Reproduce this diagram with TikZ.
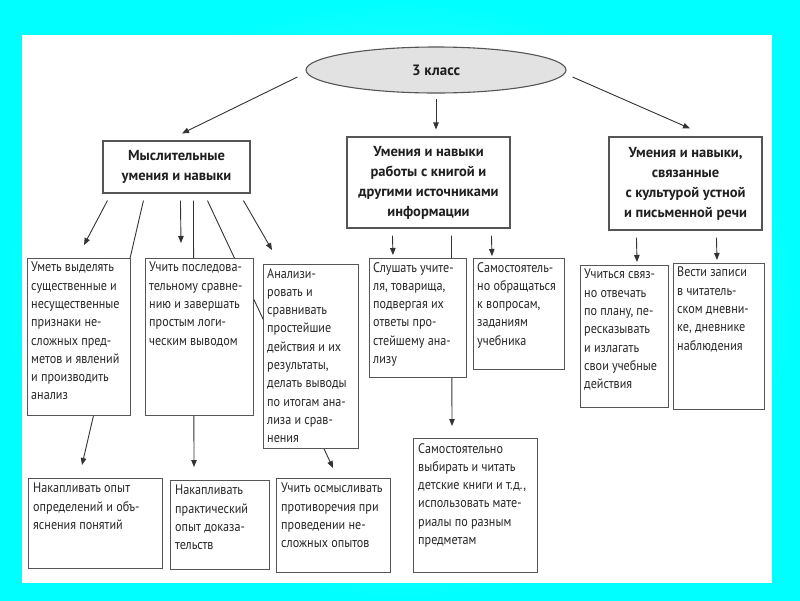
\documentclass[tikz,border=0pt]{standalone}
\usepackage{fontspec}
\setmainfont{PT Sans}
\newfontfamily\condfont{PT Sans}[FakeStretch=0.88]
\usetikzlibrary{arrows.meta,shapes.geometric,calc}
\pgfdeclarelayer{back}
\pgfdeclarelayer{lines}
\pgfsetlayers{back,lines,main}
\definecolor{bord}{HTML}{555555}
\definecolor{lin}{HTML}{333333}
\definecolor{ellfill}{HTML}{E2E2E2}
\tikzset{
  box/.style={draw=bord, line width=1.1pt, fill=white, inner sep=0pt},
  hdr/.style={box, align=center, font=\fontsize{14.5}{20}\selectfont\bfseries, text=black!88},
  txt/.style={inner sep=0pt, align=left, font=\condfont\fontsize{13.8}{18.3}\selectfont, text=black!85},
  arr/.style={draw=lin, line width=0.9pt, -{Triangle[length=7pt,width=5.5pt]}},
}
\begin{document}
\begin{tikzpicture}[x=1pt,y=-1pt]
\useasboundingbox (0,0) rectangle (800,600);
\begin{pgfonlayer}{back}
\shade[inner color=cyan!50!white, outer color=cyan] (0,0) rectangle (800,600);
\fill[white] (22,35) rectangle (772,583);
\end{pgfonlayer}

% top ellipse
\node[ellipse, draw=bord, line width=1.1pt, fill=ellfill, minimum width=260, minimum height=46,
      font=\fontsize{15}{18}\selectfont\bfseries, text=black!88] (cls) at (436,70) {3 класс};

% header boxes
\node[hdr, minimum width=147, minimum height=52] (A) at (176.5,167) {Мыслительные\\умения и навыки};
\node[hdr, minimum width=163, minimum height=91] (B) at (428.5,182.5) {Умения и навыки\\работы с книгой и\\другими источниками\\информации};
\node[hdr, minimum width=153, minimum height=93] (C) at (685.5,183.5) {Умения и навыки,\\связанные\\с культурой устной\\и письменной речи};

% content boxes
\node[box, anchor=north west, minimum width=103, minimum height=157] (b1) at (27,258) {};
\node[txt, anchor=north west] (b1t) at ($(b1.north west)+(4,4)$) {Уметь выделять\\существенные и\\несущественные\\признаки не-\\сложных пред-\\метов и явлений\\и производить\\анализ};

\node[box, anchor=north west, minimum width=108, minimum height=157] (b2) at (145,258) {};
\node[txt, anchor=north west] (b2t) at ($(b2.north west)+(4,4)$) {Учить последова-\\тельному сравне-\\нию и завершать\\простым логи-\\ческим выводом};

\node[box, anchor=north west, minimum width=95, minimum height=184] (b3) at (263,264) {};
\node[txt, anchor=north west] (b3t) at ($(b3.north west)+(4,4)$) {Анализи-\\ровать и\\сравнивать\\простейшие\\действия и их\\результаты,\\делать выводы\\по итогам ана-\\лиза и срав-\\нения};

\node[box, anchor=north west, minimum width=97, minimum height=119] (b4) at (369,258) {};
\node[txt, anchor=north west] (b4t) at ($(b4.north west)+(4,4)$) {Слушать учите-\\ля, товарища,\\подвергая их\\ответы про-\\стейшему ана-\\лизу};

\node[box, anchor=north west, minimum width=91, minimum height=111] (b5) at (473,258) {};
\node[txt, anchor=north west] (b5t) at ($(b5.north west)+(4,4)$) {Самостоятель-\\но обращаться\\к вопросам,\\заданиям\\учебника};

\node[box, anchor=north west, minimum width=88, minimum height=142] (b6) at (580,265) {};
\node[txt, anchor=north west] (b6t) at ($(b6.north west)+(4,4)$) {Учиться связ-\\но отвечать\\по плану, пе-\\ресказывать\\и излагать\\свои учебные\\действия};

\node[box, anchor=north west, minimum width=91, minimum height=146] (b7) at (673,263) {};
\node[txt, anchor=north west] (b7t) at ($(b7.north west)+(4,4)$) {Вести записи\\в читатель-\\ском дневни-\\ке, дневнике\\наблюдения};

\node[box, anchor=north west, minimum width=134, minimum height=90] (d1) at (28,478) {};
\node[txt, anchor=north west] (d1t) at ($(d1.north west)+(5,5)$) {Накапливать опыт\\определений и объ-\\яснения понятий};

\node[box, anchor=north west, minimum width=99, minimum height=89] (d2) at (170,480) {};
\node[txt, anchor=north west] (d2t) at ($(d2.north west)+(5,5)$) {Накапливать\\практический\\опыт доказа-\\тельств};

\node[box, anchor=north west, minimum width=114, minimum height=94] (d3) at (276,478) {};
\node[txt, anchor=north west] (d3t) at ($(d3.north west)+(5,5)$) {Учить осмысливать\\противоречия при\\проведении не-\\сложных опытов};

\node[box, anchor=north west, minimum width=124, minimum height=134] (d4) at (413,438) {};
\node[txt, anchor=north west] (d4t) at ($(d4.north west)+(5,5)$) {Самостоятельно\\выбирать и читать\\детские книги и т.д.,\\использовать мате-\\риалы по разным\\предметам};

% connectors (behind the boxes)
\begin{pgfonlayer}{lines}
\draw[arr] ($(cls.west)+(-8,7)$) -- ($(A.north)+(5.5,-7)$);
\draw[arr] ($(cls.south)+(0,5)$) -- ($(B.north)+(7.5,-7)$);
\draw[arr] ($(cls.east)+(6,7)$) -- ($(C.north)+(4.5,-8)$);

\draw[arr] ($(A.south west)+(5,7)$) -- ($(b1.north west)+(57,-13)$);
\draw[arr] ($(A.south west)+(41,7)$) -- ($(d1.north west)+(54,-13)$);
\draw[arr] ($(A.south west)+(78,7)$) -- ($(b2.north west)+(36,-15)$);
\draw[arr] ($(A.south west)+(91,7)$) -- ($(d2.north west)+(24,-13)$);
\draw[arr] ($(A.south west)+(105,7)$) -- ($(d3.north west)+(57,-10)$);
\draw[arr] ($(A.south west)+(141,7)$) -- ($(b3.north west)+(9,-14)$);

\draw[arr] ($(B.south west)+(46,7)$) -- ($(b4.north west)+(24,-3)$);
\draw[arr] ($(B.south west)+(105,7)$) -- ($(d4.north west)+(39,-12)$);
\draw[arr] ($(B.south west)+(145,7)$) -- ($(b5.north west)+(19,-2)$);

\draw[arr] ($(C.south west)+(28,7)$) -- ($(b6.north west)+(57,-3)$);
\draw[arr] ($(C.south west)+(108,7)$) -- ($(b7.north west)+(44,-3)$);
\end{pgfonlayer}
\end{tikzpicture}
\end{document}
